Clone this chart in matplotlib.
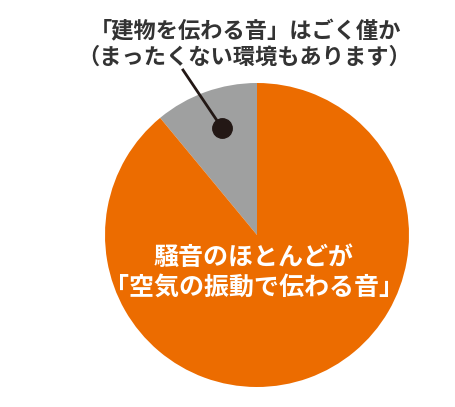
import numpy as np
import matplotlib.pyplot as plt

plt.rcParams['font.family'] = ['Noto Sans CJK JP', 'DejaVu Sans']

# データ
labels = ['建物を伝わる音', '空気の振動で伝わる音']
shares = [11, 89]
colors = ['#9fa0a0', '#ec6c00']

W, H = 456, 407
fig = plt.figure(figsize=(W / 100, H / 100), dpi=100)
ax = fig.add_axes([0, 0, 1, 1])

cx, cy, r = 257, H - 235, 152
wedges, _ = ax.pie(shares, colors=colors, startangle=90, counterclock=True,
                   center=(cx, cy), radius=r, frame=True,
                   wedgeprops=dict(linewidth=0))
ax.set_xlim(0, W)
ax.set_ylim(0, H)
ax.set_aspect('equal')
ax.axis('off')

# 灰色の扇形の中の点と引き出し線
dot = (222, H - 128)
ax.plot([183, dot[0]], [H - 70, dot[1]], color='#231815', lw=2)
ax.plot(*dot, 'o', color='#231815', ms=14)

ax.text(246, H - 32, '「建物を伝わる音」はごく僅か', ha='center', va='center',
        fontsize=16, fontweight='bold', color='#333333')
ax.text(244, H - 57, '（まったくない環境もあります）', ha='center', va='center',
        fontsize=16, fontweight='bold', color='#333333')

ax.text(254, H - 258, '騒音のほとんどが', ha='center', va='center',
        fontsize=18, fontweight='bold', color='white')
ax.text(254, H - 288, '「空気の振動で伝わる音」', ha='center', va='center',
        fontsize=18, fontweight='bold', color='white')

fig.savefig('out.png', dpi=100)
